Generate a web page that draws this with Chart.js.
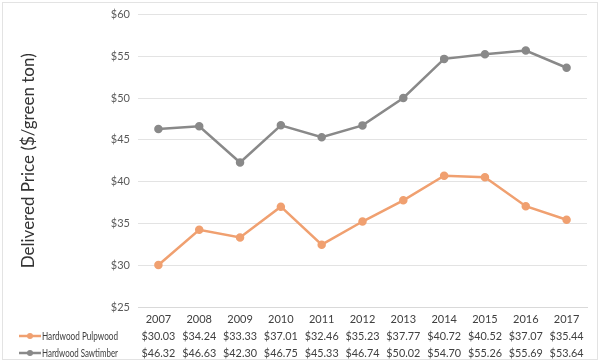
<!DOCTYPE html>
<html>
<head>
<meta charset="utf-8">
<script src="https://cdn.jsdelivr.net/npm/chart.js@4.4.1/dist/chart.umd.min.js"></script>
<style>
  html, body { margin: 0; padding: 0; background: #fff; }
  #wrap { width: 600px; height: 362px; position: relative; }
</style>
</head>
<body>
<div id="wrap"><canvas id="chart"></canvas></div>
<script>
// Data
const years = ['2007', '2008', '2009', '2010', '2011', '2012', '2013', '2014', '2015', '2016', '2017'];
const pulpwood = [30.03, 34.24, 33.33, 37.01, 32.46, 35.23, 37.77, 40.72, 40.52, 37.07, 35.44];
const sawtimber = [46.32, 46.63, 42.30, 46.75, 45.33, 46.74, 50.02, 54.70, 55.26, 55.69, 53.64];
const seriesNames = ['Hardwood Pulpwood', 'Hardwood Sawtimber'];
const yTicks = [25, 30, 35, 40, 45, 50, 55, 60];

const FONT = 'Lato, "Open Sans", sans-serif';
const pulpColor = '#F0A070';
const sawColor = '#898989';

// escreve texto com largura máxima (comprime horizontalmente se preciso)
function fitText(ctx, text, x, y, maxW) {
    const w = ctx.measureText(text).width;
    if (w <= maxW) { ctx.fillText(text, x, y); return; }
    ctx.save();
    ctx.translate(x, y);
    ctx.scale(maxW / w, 1);
    ctx.fillText(text, 0, 0);
    ctx.restore();
}

// Tabela de dados abaixo do eixo x + borda externa
const dataTablePlugin = {
    id: 'dataTable',
    beforeDraw(chart) {
        const ctx = chart.ctx;
        ctx.save();
        ctx.fillStyle = '#fff';
        ctx.fillRect(0, 0, chart.width, chart.height);
        ctx.strokeStyle = '#e3e3e3';
        ctx.lineWidth = 1;
        ctx.strokeRect(2.5, 2.5, chart.width - 5, chart.height - 5);
        ctx.restore();
    },
    afterDraw(chart) {
        const ctx = chart.ctx;
        const x = chart.scales.x;
        const rows = [
            { y: 336, data: pulpwood, color: pulpColor, name: seriesNames[0] },
            { y: 353, data: sawtimber, color: sawColor, name: seriesNames[1] }
        ];
        ctx.save();
        ctx.font = '11px ' + FONT;
        ctx.textBaseline = 'middle';
        rows.forEach(row => {
            // legenda
            ctx.strokeStyle = row.color;
            ctx.lineWidth = 2.5;
            ctx.beginPath();
            ctx.moveTo(19, row.y);
            ctx.lineTo(41, row.y);
            ctx.stroke();
            ctx.fillStyle = row.color;
            ctx.beginPath();
            ctx.arc(30, row.y, 3, 0, Math.PI * 2);
            ctx.fill();
            ctx.fillStyle = '#404040';
            ctx.textAlign = 'left';
            fitText(ctx, row.name, 42, row.y, 76);
            // valores
            ctx.textAlign = 'center';
            row.data.forEach((v, i) => {
                fitText(ctx, '$' + v.toFixed(2), x.getPixelForValue(i), row.y, 34);
            });
        });
        ctx.restore();
    }
};

const ctx = document.getElementById('chart').getContext('2d');
new Chart(ctx, {
    type: 'line',
    data: {
        labels: years,
        datasets: [
            {
                label: seriesNames[0],
                data: pulpwood,
                borderColor: pulpColor,
                backgroundColor: pulpColor,
                borderWidth: 2.5,
                pointRadius: 3,
                pointHoverRadius: 3,
                tension: 0
            },
            {
                label: seriesNames[1],
                data: sawtimber,
                borderColor: sawColor,
                backgroundColor: sawColor,
                borderWidth: 2.5,
                pointRadius: 3,
                pointHoverRadius: 3,
                tension: 0
            }
        ]
    },
    options: {
        responsive: true,
        maintainAspectRatio: false,
        animation: false,
        layout: { padding: { left: 0, right: 13, top: 14, bottom: 0 } },
        plugins: {
            legend: { display: false },
            tooltip: { enabled: false }
        },
        scales: {
            x: {
                offset: true,
                grid: { display: false, drawTicks: false },
                border: { display: true, color: '#d9d9d9', width: 1 },
                ticks: {
                    color: '#404040',
                    font: { family: FONT, size: 11 },
                    padding: 6,
                    maxRotation: 0,
                    autoSkip: false
                },
                afterFit(scale) { scale.height = 55; }
            },
            y: {
                min: 25,
                max: 60,
                afterBuildTicks(scale) {
                    scale.ticks = yTicks.map(v => ({ value: v }));
                },
                grid: { color: '#e3e3e3', drawTicks: false },
                border: { display: false },
                ticks: {
                    color: '#595959',
                    font: { family: FONT, size: 11 },
                    padding: 8,
                    callback: v => '$' + v
                },
                title: {
                    display: true,
                    text: 'Delivered Price ($/green ton)',
                    color: '#333333',
                    font: { family: FONT, size: 17 },
                    padding: { top: 18, bottom: 0 }
                },
                afterFit(scale) { scale.width = 138; }
            }
        }
    },
    plugins: [dataTablePlugin]
});
</script>
</body>
</html>
